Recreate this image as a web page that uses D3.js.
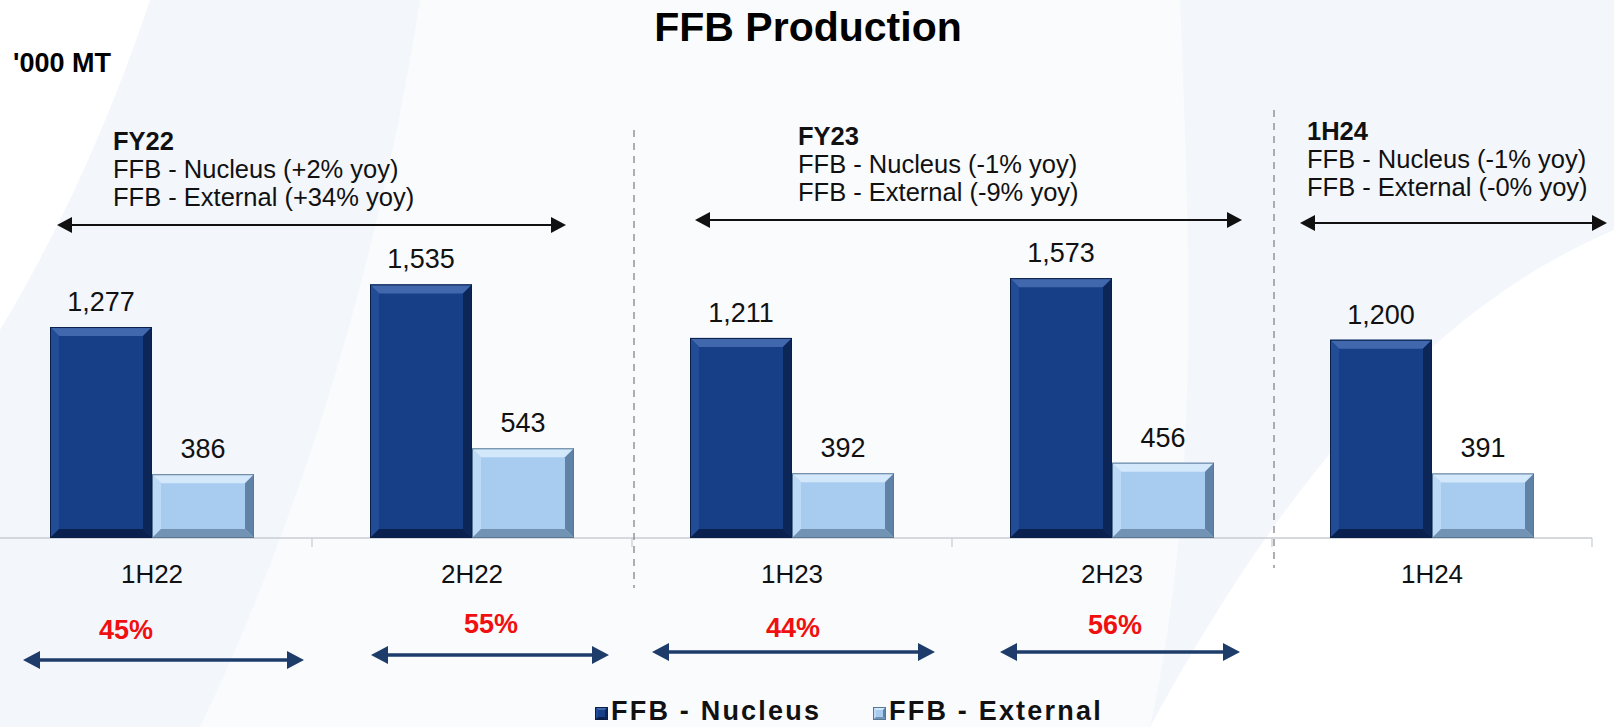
<!DOCTYPE html>
<html>
<head>
<meta charset="utf-8">
<script src="https://cdn.jsdelivr.net/npm/d3@7/dist/d3.min.js"></script>
<style>
  html, body { margin: 0; padding: 0; background: #fff; }
  svg { display: block; font-family: "Liberation Sans", Arial, sans-serif; }
</style>
</head>
<body>
<script>
// data
const periods = ['1H22', '2H22', '1H23', '2H23', '1H24'];
const seriesNames = ['FFB - Nucleus', 'FFB - External'];
const nucleus = [1277, 1535, 1211, 1573, 1200];
const external = [386, 543, 392, 456, 391];

const yearLabels = ['FY22', 'FY23', '1H24'];
const nucleusYoy = ['+2%', '-1%', '-1%'];
const externalYoy = ['+34%', '-9%', '-0%'];

const halfShares = ['45%', '55%', '44%', '56%'];

const W = 1614, H = 727;
const baseY = 538;

const svg = d3.select('body')
    .append('svg')
    .attr('width', W)
    .attr('height', H);

drawBackground();

const x = d3.scaleBand()
    .domain(periods)
    .range([-8, 1592]);

const barW = 102;
const x1 = d3.scaleBand()
    .domain(seriesNames)
    .range([x.bandwidth() / 2 - barW, x.bandwidth() / 2 + barW]);

const y = d3.scaleLinear()
    .domain([0, 1800])
    .range([baseY, baseY - 1800 * 0.1652]);

const palette = {
    'FFB - Nucleus': { mid: '#173f87', top: '#4168ad', left: '#224c96', right: '#0c2658', bottom: '#0a2150', edge: '#0a1f48' },
    'FFB - External': { mid: '#a7ccef', top: '#d3e8fb', left: '#bcdaf6', right: '#5f82a6', bottom: '#7393b4', edge: '#5a7896' }
};

// axis
svg.append('line')
    .attr('x1', 0).attr('x2', 1592)
    .attr('y1', baseY).attr('y2', baseY)
    .attr('stroke', '#c9ccd1')
    .attr('stroke-width', 1.5);

svg.selectAll('line.tick')
    .data(periods.slice(1).concat(['end']))
    .enter()
    .append('line')
    .attr('class', 'tick')
    .attr('x1', (d, i) => x(periods[0]) + (i + 1) * x.bandwidth())
    .attr('x2', (d, i) => x(periods[0]) + (i + 1) * x.bandwidth())
    .attr('y1', baseY)
    .attr('y2', baseY + 9)
    .attr('stroke', '#c9ccd1')
    .attr('stroke-width', 1.2);

svg.selectAll('text.cat')
    .data(periods)
    .enter()
    .append('text')
    .attr('class', 'cat')
    .attr('x', d => x(d) + x.bandwidth() / 2)
    .attr('y', baseY + 45)
    .attr('text-anchor', 'middle')
    .attr('font-size', 26)
    .attr('fill', '#111')
    .text(d => d);

// dashed separators between years
svg.selectAll('line.sep')
    .data([2, 4])
    .enter()
    .append('line')
    .attr('class', 'sep')
    .attr('x1', i => x(periods[i]) + 2)
    .attr('x2', i => x(periods[i]) + 2)
    .attr('y1', (d, i) => i === 0 ? 130 : 110)
    .attr('y2', (d, i) => i === 0 ? 588 : 568)
    .attr('stroke', '#8a8d92')
    .attr('stroke-width', 1.4)
    .attr('stroke-dasharray', '7,6');

// bars
const rows = periods.map((p, i) => ({ period: p, values: [nucleus[i], external[i]] }));

const groups = svg.selectAll('g.grp')
    .data(rows)
    .enter()
    .append('g')
    .attr('class', 'grp')
    .attr('transform', d => `translate(${x(d.period)},0)`);

groups.each(function (d) {
    const g = d3.select(this);
    d.values.forEach((v, k) => {
        const name = seriesNames[k];
        bevelBar(g, x1(name), y(v), x1.bandwidth(), baseY - y(v), palette[name], 9);
        g.append('text')
            .attr('x', x1(name) + x1.bandwidth() / 2)
            .attr('y', y(v) - 16)
            .attr('text-anchor', 'middle')
            .attr('font-size', 27)
            .attr('fill', '#111')
            .text(d3.format(',')(v));
    });
});

function bevelBar(g, bx, by, bw, bh, c, b) {
    const bb = Math.min(b, bh / 3);
    g.append('rect')
        .attr('x', bx).attr('y', by)
        .attr('width', bw).attr('height', bh)
        .attr('fill', c.mid);
    const faces = [
        { pts: [[bx, by], [bx + bw, by], [bx + bw - bb, by + bb], [bx + bb, by + bb]], fill: c.top },
        { pts: [[bx, by], [bx + bb, by + bb], [bx + bb, by + bh - bb], [bx, by + bh]], fill: c.left },
        { pts: [[bx + bw, by], [bx + bw, by + bh], [bx + bw - bb, by + bh - bb], [bx + bw - bb, by + bb]], fill: c.right },
        { pts: [[bx, by + bh], [bx + bb, by + bh - bb], [bx + bw - bb, by + bh - bb], [bx + bw, by + bh]], fill: c.bottom }
    ];
    g.selectAll(null)
        .data(faces)
        .enter()
        .append('polygon')
        .attr('points', f => f.pts.map(p => p.join(',')).join(' '))
        .attr('fill', f => f.fill);
    g.append('rect')
        .attr('x', bx + 0.5).attr('y', by + 0.5)
        .attr('width', bw - 1).attr('height', bh - 1)
        .attr('fill', 'none')
        .attr('stroke', c.edge)
        .attr('stroke-width', 1);
}

// year annotations: text position, arrow x0, x1, arrow y
const annLayout = [
    { tx: 113, ty: 150, ax0: 57, ax1: 566, ay: 225 },
    { tx: 798, ty: 145, ax0: 695, ax1: 1242, ay: 220 },
    { tx: 1307, ty: 140, ax0: 1300, ax1: 1607, ay: 223 }
];

yearLabels.forEach((lab, i) => {
    const L = annLayout[i];
    const t = svg.append('text')
        .attr('x', L.tx)
        .attr('y', L.ty)
        .attr('font-size', 25.5)
        .attr('fill', '#111');
    t.append('tspan')
        .attr('font-weight', 'bold')
        .text(lab);
    t.append('tspan')
        .attr('x', L.tx).attr('dy', 28)
        .text(`FFB - Nucleus (${nucleusYoy[i]} yoy)`);
    t.append('tspan')
        .attr('x', L.tx).attr('dy', 28)
        .text(`FFB - External (${externalYoy[i]} yoy)`);
    doubleArrow(L.ax0, L.ax1, L.ay, '#111', 2, 15, 8);
});

// share of the year, per half: arrow x0, x1, y and label centre
const shareLayout = [
    { x0: 23, x1: 304, y: 660, tx: 126, ty: 639 },
    { x0: 371, x1: 609, y: 655, tx: 491, ty: 633 },
    { x0: 652, x1: 935, y: 652, tx: 793, ty: 637 },
    { x0: 1000, x1: 1240, y: 652, tx: 1115, ty: 634 }
];

halfShares.forEach((s, i) => {
    const L = shareLayout[i];
    doubleArrow(L.x0, L.x1, L.y, '#1d3c6a', 3.5, 17, 9);
    svg.append('text')
        .attr('x', L.tx)
        .attr('y', L.ty)
        .attr('text-anchor', 'middle')
        .attr('font-size', 27)
        .attr('font-weight', 'bold')
        .attr('fill', '#f01010')
        .text(s);
});

function doubleArrow(xa, xb, ay, col, sw, hl, hw) {
    svg.append('line')
        .attr('x1', xa + hl - 2).attr('x2', xb - hl + 2)
        .attr('y1', ay).attr('y2', ay)
        .attr('stroke', col)
        .attr('stroke-width', sw);
    svg.append('path')
        .attr('d', `M${xa},${ay} L${xa + hl},${ay - hw} L${xa + hl},${ay + hw} Z M${xb},${ay} L${xb - hl},${ay - hw} L${xb - hl},${ay + hw} Z`)
        .attr('fill', col);
}

// titles
svg.append('text')
    .attr('x', 808)
    .attr('y', 41)
    .attr('text-anchor', 'middle')
    .attr('font-size', 41)
    .attr('font-weight', 'bold')
    .attr('fill', '#000')
    .text('FFB Production');

svg.append('text')
    .attr('x', 13)
    .attr('y', 72)
    .attr('font-size', 27)
    .attr('font-weight', 'bold')
    .attr('fill', '#000')
    .text("'000 MT");

// legend
const legend = svg.selectAll('g.leg')
    .data(seriesNames)
    .enter()
    .append('g')
    .attr('class', 'leg')
    .attr('transform', (d, i) => `translate(${[595, 873][i]},707)`);

legend.each(function (d) {
    bevelBar(d3.select(this), 0, 0, 13, 13, palette[d], 3);
});

legend.append('text')
    .attr('x', 16)
    .attr('y', 13)
    .attr('font-size', 27)
    .attr('font-weight', 'bold')
    .attr('letter-spacing', 2.2)
    .attr('fill', '#111')
    .text(d => d);

function drawBackground() {
    svg.append('rect')
        .attr('width', W).attr('height', H)
        .attr('fill', '#f3f7fc');
    // white swooshes
    svg.append('path')
        .attr('d', 'M0,0 L150,0 C110,120 60,230 0,330 Z')
        .attr('fill', '#ffffff');
    svg.append('path')
        .attr('d', 'M420,0 L1180,0 C1190,250 1200,500 1150,727 L200,727 C300,520 380,260 420,0 Z')
        .attr('fill', '#fafbfd');
    svg.append('path')
        .attr('d', 'M1614,230 C1450,300 1300,450 1150,727 L1614,727 Z')
        .attr('fill', '#ffffff');
}
</script>
</body>
</html>
